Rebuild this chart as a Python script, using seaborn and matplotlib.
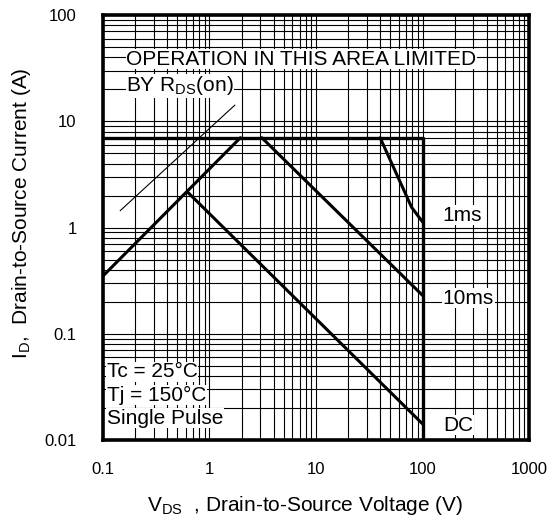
import numpy as np
import pandas as pd
import matplotlib
matplotlib.use("Agg")
import matplotlib.pyplot as plt
import seaborn as sns
from matplotlib.ticker import LogLocator, NullFormatter, FixedLocator, FixedFormatter

# valeurs (V, A)
limite_v = [0.1, 100, 100]
limite_i = [7, 7, 0.01]
rds_v = [0.1, 1.95]
rds_i = [0.35, 7]
ms10_v = [3.1, 100]
ms10_i = [7, 0.23]
ms1_v = [40, 79, 100]
ms1_i = [7, 1.55, 1.13]
dc_v = [0.63, 100]
dc_i = [2.13, 0.0142]
fine_v = [0.145, 1.73]
fine_i = [1.44, 14.2]

x_ticks = [0.1, 1, 10, 100, 1000]
x_labels = ["0.1", "1", "10", "100", "1000"]
y_ticks = [0.01, 0.1, 1, 10, 100]
y_labels = ["0.01", "0.1", "1", "10", "100"]

sns.set_theme(style="white")
plt.rcParams['font.family'] = ['Liberation Sans', 'DejaVu Sans']
plt.rcParams['mathtext.fontset'] = 'custom'
plt.rcParams['mathtext.rm'] = 'Liberation Sans'
plt.rcParams['text.color'] = 'black'
plt.rcParams['axes.labelcolor'] = 'black'

fig = plt.figure(figsize=(5.49, 5.27), dpi=100)
ax = fig.add_axes([0.1876, 0.165, 0.776, 0.8065])
ax.set_xscale("log")
ax.set_yscale("log")
ax.set_xlim(0.1, 1000)
ax.set_ylim(0.01, 100)

courbes = [
    (limite_v, limite_i, 2.4),
    (rds_v, rds_i, 2.2),
    (ms10_v, ms10_i, 2.2),
    (ms1_v, ms1_i, 2.2),
    (dc_v, dc_i, 2.2),
    (fine_v, fine_i, 0.8),
]
for v, i, lw in courbes:
    df = pd.DataFrame({"V": v, "I": i})
    sns.lineplot(data=df, x="V", y="I", sort=False, estimator=None,
                 color="black", lw=lw, ax=ax, zorder=3)

# grille fine type papier log
ax.xaxis.set_major_locator(FixedLocator(x_ticks))
ax.xaxis.set_major_formatter(FixedFormatter(x_labels))
ax.yaxis.set_major_locator(FixedLocator(y_ticks))
ax.yaxis.set_major_formatter(FixedFormatter(y_labels))
ax.xaxis.set_minor_locator(LogLocator(base=10, subs=np.arange(2, 10)))
ax.yaxis.set_minor_locator(LogLocator(base=10, subs=np.arange(2, 10)))
ax.xaxis.set_minor_formatter(NullFormatter())
ax.yaxis.set_minor_formatter(NullFormatter())
ax.grid(which="both", color="black", lw=0.8)
ax.tick_params(which="both", length=0, labelsize=12, colors="black")
ax.tick_params(axis="x", pad=16)
ax.tick_params(axis="y", pad=19)

for s in ax.spines.values():
    s.set_color("black")
    s.set_linewidth(2.6)

taille = 15
boite = dict(facecolor="white", edgecolor="none", pad=0.5)
ax.text(0.165, 38.5, "OPERATION IN THIS AREA LIMITED", fontsize=taille, va="center", ha="left", bbox=boite, zorder=4)
ax.text(0.165, 21.5, r"BY R$_\mathregular{DS}$(on)", fontsize=taille, va="center", ha="left", bbox=boite, zorder=4)
ax.text(0.108, 0.0437, "Tc = 25°C", fontsize=taille, va="center", ha="left", bbox=boite, zorder=4)
ax.text(0.108, 0.0265, "Tj = 150°C", fontsize=taille, va="center", ha="left", bbox=boite, zorder=4)
ax.text(0.108, 0.0161, "Single Pulse", fontsize=taille, va="center", ha="left", bbox=boite, zorder=4)
ax.text(155, 1.31, "1ms", fontsize=taille, va="center", ha="left", bbox=boite, zorder=4)
ax.text(155, 0.217, "10ms", fontsize=taille, va="center", ha="left", bbox=boite, zorder=4)
ax.text(155, 0.0138, "DC", fontsize=taille, va="center", ha="left", bbox=boite, zorder=4)

ax.set_xlabel(r"V$_\mathregular{DS}$  , Drain-to-Source Voltage (V)", fontsize=taille)
ax.set_ylabel(r"I$_\mathregular{D}$,  Drain-to-Source Current (A)", fontsize=taille)
ax.xaxis.set_label_coords(0.474, -0.128)
ax.yaxis.set_label_coords(-0.165, 0.534)

plt.savefig("out.png", dpi=100)
